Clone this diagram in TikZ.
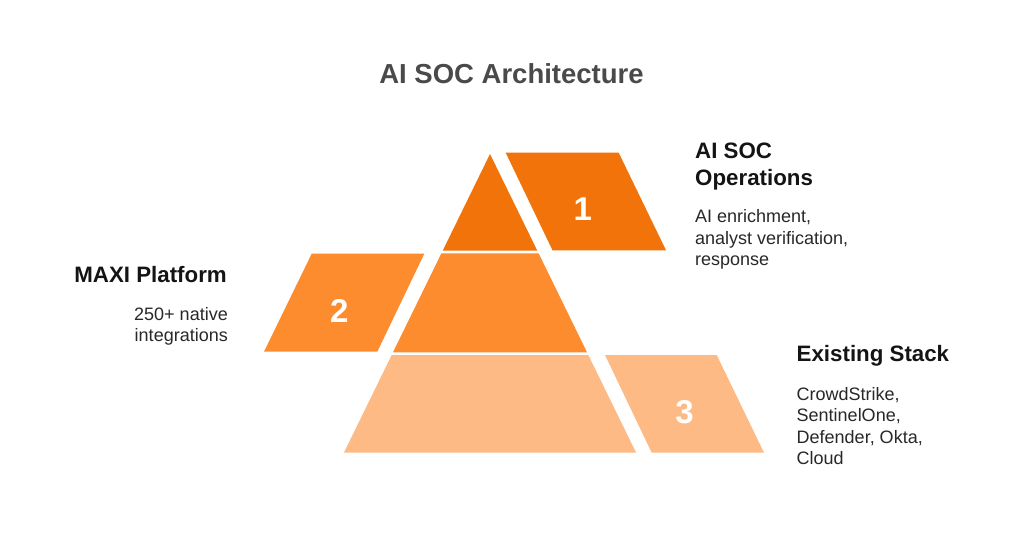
\documentclass[tikz,border=0pt]{standalone}
\usepackage{fontspec}
\setmainfont{Liberation Sans}
\definecolor{dkorange}{RGB}{242,115,10}
\definecolor{mdorange}{RGB}{253,140,46}
\definecolor{ltorange}{RGB}{254,186,133}
\definecolor{titlegray}{RGB}{74,74,74}
\definecolor{headblack}{RGB}{20,20,20}
\definecolor{bodygray}{RGB}{40,40,40}
\begin{document}
\begin{tikzpicture}[x=1pt,y=-1pt,
  titlestyle/.style={inner sep=0pt,text=titlegray,font=\fontsize{27.5}{30}\selectfont\bfseries},
  headstyle/.style={inner sep=0pt,text=headblack,font=\fontsize{22.3}{26.7}\selectfont\bfseries},
  bodystyle/.style={inner sep=0pt,text=bodygray,font=\fontsize{18}{21.5}\selectfont},
  numstyle/.style={inner sep=0pt,text=white,font=\fontsize{33}{36}\selectfont\bfseries},
]
\useasboundingbox[fill=white] (0,0) rectangle (1024,541);

% pyramid layers
\fill[dkorange] (490,154) -- (537.3,250.7) -- (442.7,250.7) -- cycle;
\fill[mdorange] (441.4,253.3) -- (538.6,253.3) -- (587,352.3) -- (393,352.3) -- cycle;
\fill[ltorange] (391.7,355) -- (588.3,355) -- (636.1,452.7) -- (343.9,452.7) -- cycle;

% side parallelograms
\fill[dkorange] (505.7,152.7) -- (618.7,152.7) -- (666,250.3) -- (552.5,250.3) -- cycle;
\fill[mdorange] (311.7,253.7) -- (424.3,253.7) -- (377.3,351.7) -- (264,351.7) -- cycle;
\fill[ltorange] (605,355) -- (716.7,355) -- (764,452.7) -- (651.7,452.7) -- cycle;

% numbers
\node[numstyle] (n1) at (582.7,209.5) {1};
\node[numstyle] (n2) at (339.2,310.8) {2};
\node[numstyle] (n3) at (684.5,412.2) {3};

% title
\node[titlestyle,anchor=base] (title) at (511.5,83.3) {AI SOC Architecture};

% labels (base anchor = baseline of the last line)
\node[headstyle,anchor=base west,align=left] (h1) at (695,185) {AI SOC\\Operations};
\node[bodystyle,anchor=base west,align=left] (b1) at (695,265.5) {AI enrichment,\\analyst verification,\\response};

\node[headstyle,anchor=base east,align=right] (h2) at (227,282.3) {MAXI Platform};
\node[bodystyle,anchor=base east,align=right] (b2) at (228,341.5) {250+ native\\integrations};

\node[headstyle,anchor=base west,align=left] (h3) at (796.5,361.7) {Existing Stack};
\node[bodystyle,anchor=base west,align=left] (b3) at (796.5,464.5) {CrowdStrike,\\SentinelOne,\\Defender, Okta,\\Cloud};
\end{tikzpicture}
\end{document}
